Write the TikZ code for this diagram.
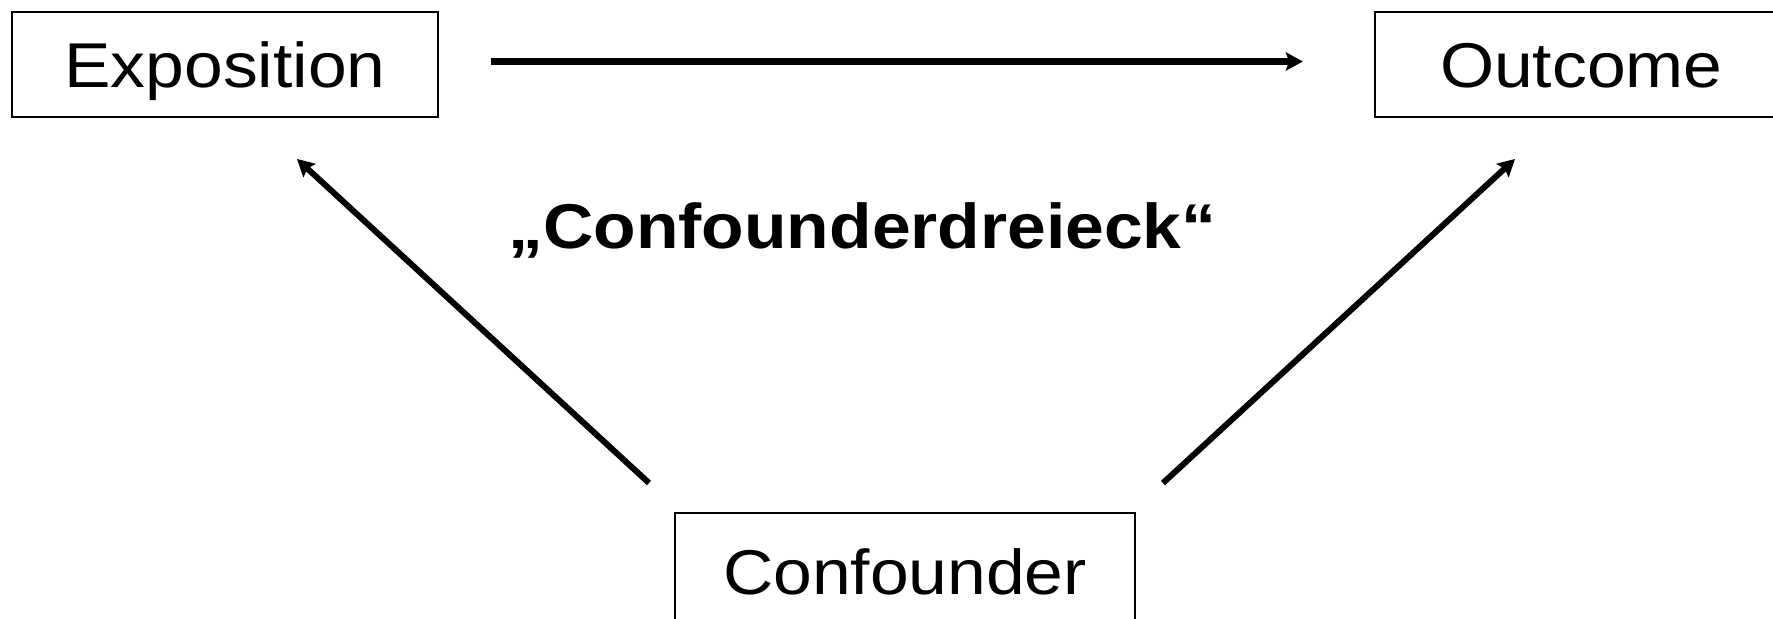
\documentclass[tikz,border=0pt]{standalone}
\usepackage{fontspec}
\setmainfont[FakeStretch=1.1]{Liberation Sans}
\usetikzlibrary{arrows.meta}

\begin{document}
\begin{tikzpicture}[x=0.01cm, y=-0.01cm]
 \tikzset{
box/.style = {draw, line width=0.02cm, minimum height=1.05cm, inner xsep=0pt, text height=12.9pt, text depth=0pt, font=\fontsize{18}{21}\selectfont},
link/.style = {line width=0.06cm, -{Stealth[length=0.17cm, width=0.18cm, inset=0.03cm]}},
title/.style = {font=\fontsize{18}{21}\selectfont\bfseries}}

    \useasboundingbox (0,0) rectangle (1773,618);
    \clip (0,0) rectangle (1773,618);

    \node [box] (EXP) [minimum width=4.26cm] at (225,64.5) {Exposition};
    \node [box] (OUT) [anchor=west, inner xsep=0.65cm, text width=3.3cm, align=left] at (1374,64.5) {Outcome};
    \node [box] (CONF) [minimum width=4.6cm, minimum height=1.18cm] at (905,572) {Confounder};
    \node [title] (TRI) [anchor=base] at (862.5,248) {„Confounderdreieck“};

    \coordinate (EXPtip) at (297,159);
    \coordinate (OUTtip) at (1515,159);
    \coordinate (CONFl) at (649,483);
    \coordinate (CONFr) at (1163,483);

    \draw [link, shorten <=0.52cm, shorten >=0.71cm] ([yshift=0.03cm]EXP.east) -- ([yshift=0.03cm]OUT.west);
    \draw [link] (CONFl) -- (EXPtip);
    \draw [link] (CONFr) -- (OUTtip);

  \end{tikzpicture}
\end{document}
